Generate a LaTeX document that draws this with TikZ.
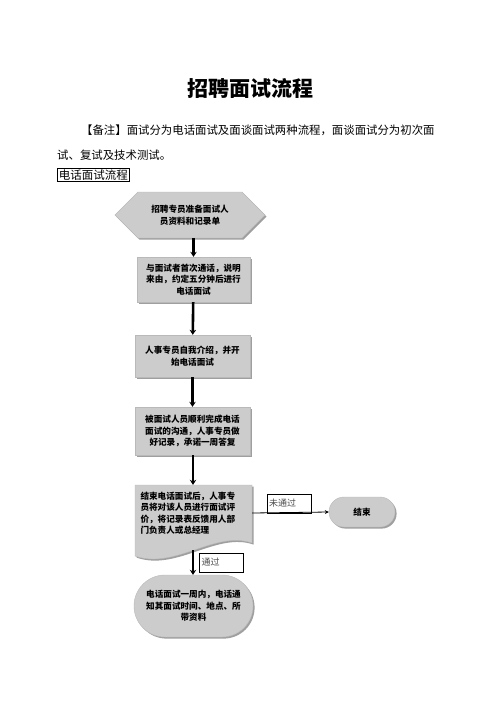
\documentclass[tikz,border=0pt]{standalone}
\usepackage{fontspec}
\newfontfamily\cjk{Noto Sans CJK SC}
\usetikzlibrary{shapes.symbols,shapes.misc,shadows,arrows.meta}

\tikzset{
  flowbox/.style={draw=gray!55, fill=gray!40,
    drop shadow={shadow xshift=1.6pt, shadow yshift=-1.6pt, fill=gray!75, opacity=1},
    font=\cjk\bfseries\fontsize{8.6}{11.5}\selectfont, align=center, inner sep=2pt},
  flowarrow/.style={line width=2.6pt, -{Stealth[length=5pt,width=6.5pt]}},
  tagbox/.style={draw, font=\cjk\fontsize{9}{10}\selectfont, text=black!70,
    inner sep=2pt, minimum height=19pt, text width=40pt, align=left}
}

\begin{document}
\begin{tikzpicture}[x=1pt, y=-1pt]
    \useasboundingbox[fill=white] (0,0) rectangle (496,702);

    % 标题与说明
    \node[font=\cjk\bfseries\fontsize{21}{21}\selectfont] (title) at (250,88) {招聘面试流程};
    \node[anchor=west, align=left, inner sep=0pt, font=\cjk\fontsize{11.4}{25}\selectfont] (note) at (57,142.5)
        {\hspace*{24pt}【备注】面试分为电话面试及面谈面试两种流程，面谈面试分为初次面\\试、复试及技术测试。};
    \node[draw, line width=0.8pt, anchor=west, inner sep=1.5pt,
        font=\cjk\fontsize{11.5}{12}\selectfont] (phone) at (57,175) {电话面试流程};

    % 流程框
    \node[flowbox, signal, signal to=west and east, minimum width=150pt, minimum height=46pt]
        (prep) at (190,215) {招聘专员准备面试人\\员资料和记录单};
    \node[flowbox, minimum width=113pt, minimum height=45pt] (call) at (193.5,279.5)
        {与面试者首次通话，说明\\来由，约定五分钟后进行\\电话面试};
    \node[flowbox, minimum width=115pt, minimum height=42pt] (intro) at (192.5,356)
        {人事专员自我介绍，并开\\始电话面试};
    \node[flowbox, minimum width=115pt, minimum height=48pt] (talk) at (192.5,431)
        {被面试人员顺利完成电话\\面试的沟通，人事专员做\\好记录，承诺一周答复};

    % 文档框（波浪底边）
    \fill[gray!75, xshift=1.6pt, yshift=-1.6pt] (135,485) -- (252,485) -- (252,543)
        .. controls (215,530) and (175,570) .. (135,556) -- cycle;
    \filldraw[draw=gray!55, fill=gray!40] (135,485) -- (252,485) -- (252,543)
        .. controls (215,530) and (175,570) .. (135,556) -- cycle;
    \node[minimum width=117pt, minimum height=56pt, text width=106pt, align=left, inner sep=0pt,
        font=\cjk\bfseries\fontsize{8.6}{11.5}\selectfont] (eval) at (193.5,513)
        {结束电话面试后，人事专\\员将对该人员进行面试评\\价，将记录表反馈用人部\\门负责人或总经理};
    \coordinate (evalbottom) at (193,550);

    \node[flowbox, rounded rectangle, minimum width=70pt, minimum height=30pt] (stop) at (362,512) {结束};
    \node[flowbox, rounded rectangle, minimum width=123pt, minimum height=62pt] (notify) at (193.5,606)
        {电话面试一周内，电话通\\知其面试时间、地点、所\\带资料};

    % 连线
    \draw[flowarrow] (prep.south -| call.north) -- (call.north);
    \draw[flowarrow] (call) -- (intro);
    \draw[flowarrow] (intro) -- (talk);
    \draw[flowarrow] (talk.south -| evalbottom) -- (eval.north -| evalbottom);
    \draw[flowarrow] (evalbottom) -- (notify.north -| evalbottom);
    \draw[line width=0.8pt, -{Stealth[length=4pt,width=4pt]}] (eval.east) -- (stop.west);

    % 判断标签
    \node[tagbox] (fail) at (289,503.5) {未通过};
    \node[tagbox] (pass) at (221.5,562.5) {通过};
\end{tikzpicture}
\end{document}
